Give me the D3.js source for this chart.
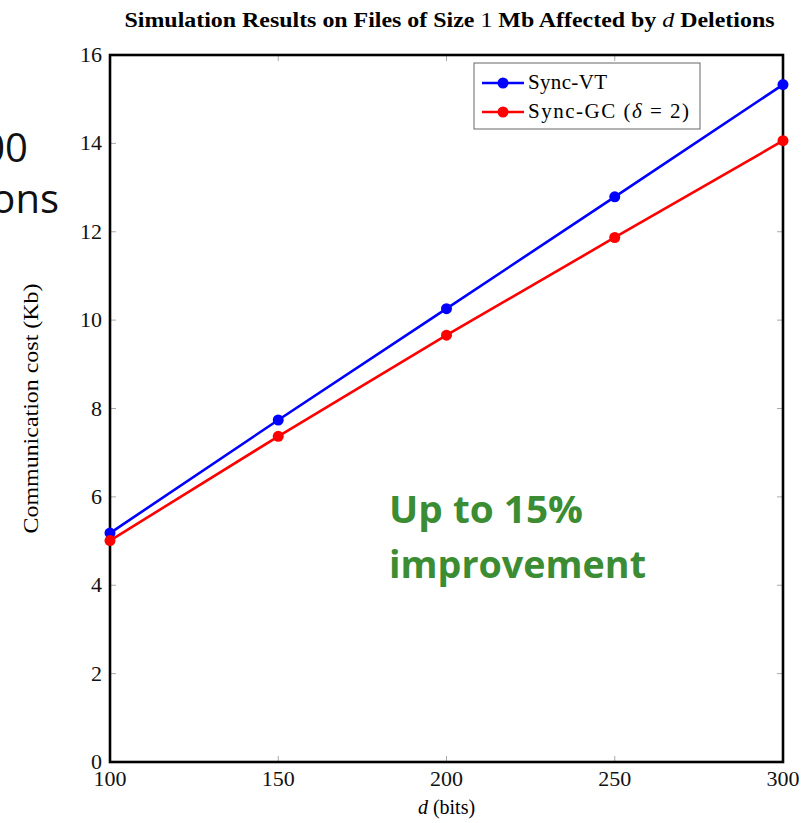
<!DOCTYPE html>
<html lang="en">
<head>
    <meta charset="UTF-8">
    <title>Simulation Results on Files of Size 1 Mb Affected by d Deletions</title>
    <script src="https://d3js.org/d3.v7.min.js"></script>
    <style>
        body {
            margin: 0;
            padding: 0;
            background: #fff;
        }
        svg text {
            font-family: "Liberation Serif", "DejaVu Serif", serif;
        }
        .tick-label {
            font-size: 22px;
            fill: #111;
        }
        .slide-text {
            font-family: "Open Sans", "Noto Sans", sans-serif !important;
            font-size: 40px;
            fill: #111;
        }
        .note {
            font-family: "Open Sans", "Noto Sans", sans-serif !important;
            font-weight: bold;
            font-size: 38px;
            fill: #3b8c33;
        }
    </style>
</head>
<body>
    <div id="chart"></div>

    <script>
        // data
        const dValues = [100, 150, 200, 250, 300];
        const syncVT = [5.18, 7.74, 10.26, 12.79, 15.33];
        const syncGC = [5.01, 7.37, 9.66, 11.87, 14.06];
        const xTicks = [100, 150, 200, 250, 300];
        const yTicks = [0, 2, 4, 6, 8, 10, 12, 14, 16];
        const seriesNames = ["Sync-VT", "Sync-GC"];
        const seriesColors = ["#0000ff", "#ff0000"];

        const width = 812;
        const height = 823;
        const margin = { top: 55, right: 29, bottom: 61, left: 110 };

        const svg = d3.select("#chart")
            .append("svg")
            .attr("width", width)
            .attr("height", height);

        // leftover slide text, cut off at the left edge
        svg.append("text").attr("class", "slide-text")
            .attr("x", 28).attr("y", 162).attr("text-anchor", "end").text("300");
        svg.append("text").attr("class", "slide-text")
            .attr("x", 59).attr("y", 213).attr("text-anchor", "end").text("deletions");

        const x = d3.scaleLinear()
            .domain([100, 300])
            .range([margin.left, width - margin.right]);

        const y = d3.scaleLinear()
            .domain([0, 16])
            .range([height - margin.bottom, margin.top]);

        const x0 = x.range()[0], x1 = x.range()[1];
        const y0 = y.range()[0], y1 = y.range()[1];

        // title
        svg.append("text")
            .attr("x", (x0 + x1) / 2 + 3)
            .attr("y", 27)
            .attr("text-anchor", "middle")
            .attr("font-weight", "bold")
            .attr("font-size", 20.5)
            .attr("textLength", 650)
            .attr("lengthAdjust", "spacingAndGlyphs")
            .call(t => {
                t.append("tspan").text("Simulation Results on Files of Size ");
                t.append("tspan").attr("font-weight", "normal").text("1");
                t.append("tspan").text(" Mb Affected by ");
                t.append("tspan").attr("font-weight", "normal").attr("font-style", "italic").text("d");
                t.append("tspan").text(" Deletions");
            });

        // inner ticks (grey, on every side)
        const ticks = svg.append("g").attr("stroke", "#aaa").attr("stroke-width", 1);
        xTicks.slice(1, -1).forEach(v => {
            ticks.append("line").attr("x1", x(v)).attr("x2", x(v)).attr("y1", y0).attr("y2", y0 - 6);
            ticks.append("line").attr("x1", x(v)).attr("x2", x(v)).attr("y1", y1).attr("y2", y1 + 6);
        });
        yTicks.slice(1, -1).forEach(v => {
            ticks.append("line").attr("x1", x0).attr("x2", x0 + 6).attr("y1", y(v)).attr("y2", y(v));
            ticks.append("line").attr("x1", x1).attr("x2", x1 - 6).attr("y1", y(v)).attr("y2", y(v));
        });

        // tick labels
        svg.append("g").selectAll("text")
            .data(xTicks)
            .enter().append("text")
            .attr("class", "tick-label")
            .attr("x", d => x(d))
            .attr("y", y0 + 24)
            .attr("text-anchor", "middle")
            .text(d => d);

        svg.append("g").selectAll("text")
            .data(yTicks)
            .enter().append("text")
            .attr("class", "tick-label")
            .attr("x", x0 - 8)
            .attr("y", d => y(d) + 7)
            .attr("text-anchor", "end")
            .text(d => d);

        // axis titles
        svg.append("text")
            .attr("x", (x0 + x1) / 2)
            .attr("y", 814)
            .attr("text-anchor", "middle")
            .attr("font-size", 20)
            .call(t => {
                t.append("tspan").attr("font-style", "italic").text("d");
                t.append("tspan").text(" (bits)");
            });

        svg.append("text")
            .attr("transform", `translate(38, ${(y0 + y1) / 2}) rotate(-90)`)
            .attr("text-anchor", "middle")
            .attr("font-size", 20)
            .attr("textLength", 250)
            .attr("lengthAdjust", "spacingAndGlyphs")
            .text("Communication cost (Kb)");

        // series
        const series = [syncVT, syncGC];
        const line = d3.line()
            .x((d, i) => x(dValues[i]))
            .y(d => y(d));

        series.forEach((vals, k) => {
            svg.append("path")
                .datum(vals)
                .attr("fill", "none")
                .attr("stroke", seriesColors[k])
                .attr("stroke-width", 2.6)
                .attr("d", line);
        });

        // frame
        svg.append("rect")
            .attr("x", x0).attr("y", y1)
            .attr("width", x1 - x0).attr("height", y0 - y1)
            .attr("fill", "none")
            .attr("stroke", "#000")
            .attr("stroke-width", 2.6);

        series.forEach((vals, k) => {
            svg.append("g").selectAll("circle")
                .data(vals)
                .enter().append("circle")
                .attr("cx", (d, i) => x(dValues[i]))
                .attr("cy", d => y(d))
                .attr("r", 5.5)
                .attr("fill", seriesColors[k]);
        });

        // legend
        const legend = svg.append("g").attr("transform", "translate(474, 63)");
        legend.append("rect")
            .attr("width", 226).attr("height", 66)
            .attr("fill", "#fff")
            .attr("stroke", "#666")
            .attr("stroke-width", 1);

        const legendWidths = [79, 161];
        seriesNames.forEach((name, k) => {
            const ly = 20 + k * 29;
            legend.append("line")
                .attr("x1", 8).attr("x2", 50).attr("y1", ly).attr("y2", ly)
                .attr("stroke", seriesColors[k]).attr("stroke-width", 2.6);
            legend.append("circle")
                .attr("cx", 29).attr("cy", ly).attr("r", 5.5)
                .attr("fill", seriesColors[k]);
            const t = legend.append("text")
                .attr("x", 54).attr("y", ly + 6)
                .attr("font-size", 21)
                .attr("textLength", legendWidths[k])
                .attr("lengthAdjust", "spacing")
                .text(name);
            if (k === 1) {
                t.append("tspan").text(" (");
                t.append("tspan").attr("font-style", "italic").text("δ");
                t.append("tspan").text(" = 2)");
            }
        });

        // annotation
        svg.append("text").attr("class", "note")
            .attr("x", 389).attr("y", 523)
            .attr("textLength", 194).attr("lengthAdjust", "spacingAndGlyphs")
            .text("Up to 15%");
        svg.append("text").attr("class", "note")
            .attr("x", 389).attr("y", 578)
            .attr("textLength", 257).attr("lengthAdjust", "spacingAndGlyphs")
            .text("improvement");
    </script>
</body>
</html>
